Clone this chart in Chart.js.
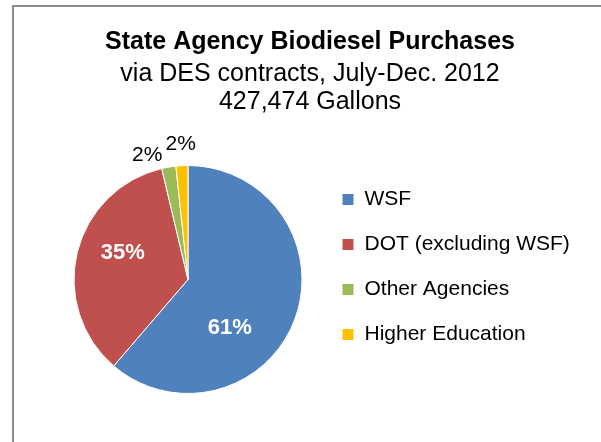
<!DOCTYPE html>
<html>
<head>
<meta charset="utf-8">
<title>State Agency Biodiesel Purchases</title>
<script src="https://cdn.jsdelivr.net/npm/chart.js@4"></script>
<style>
  html, body { margin: 0; padding: 0; background: #fff; }
  #wrap { position: relative; width: 601px; height: 442px; overflow: hidden; }
  #frame { position: absolute; left: 12px; top: 5px; width: 640px; height: 480px;
           border-left: 2px solid #8c8c8c; border-top: 2px solid #8c8c8c; }
  #chart { position: absolute; left: 0; top: 0; }
</style>
</head>
<body>
<div id="wrap">
  <div id="frame"></div>
  <canvas id="chart" width="601" height="442"></canvas>
</div>
<script>
// data (share of gallons, %)
const categories = ["WSF", "DOT (excluding WSF)", "Other Agencies", "Higher Education"];
const shares = [61.3, 35.0, 2.0, 1.7];
const sliceColors = ["#4F81BD", "#C0504D", "#9BBB59", "#FFC000"];
const titleText = "State Agency Biodiesel Purchases";
const subtitleLines = ["via DES contracts, July-Dec. 2012", "427,474 Gallons"];

const FONT = "'Liberation Sans', Arial, sans-serif";

// where each percent label sits: fraction along the slice, fraction of radius
const labelSpots = [
  { along: 0.63, r: 0.56, inside: true },
  { along: 0.57, r: 0.62, inside: true },
  { along: -0.68, r: 1.145, inside: false },
  { along: 0.5, r: 1.19, inside: false }
];

// percent labels on the pie
const pctLabels = {
  id: "pctLabels",
  afterDatasetsDraw(chart) {
    const ctx = chart.ctx;
    const meta = chart.getDatasetMeta(0);
    const vals = chart.data.datasets[0].data;
    const total = vals.reduce((a, b) => a + b, 0);
    ctx.save();
    ctx.textAlign = "center";
    ctx.textBaseline = "middle";
    meta.data.forEach((arc, i) => {
      const p = arc.getProps(["x", "y", "startAngle", "endAngle", "outerRadius"], true);
      const spot = labelSpots[i];
      const a = p.startAngle + spot.along * (p.endAngle - p.startAngle);
      const rr = p.outerRadius * spot.r;
      const x = p.x + Math.cos(a) * rr;
      const y = p.y + Math.sin(a) * rr;
      if (spot.inside) {
        ctx.font = "bold 22px " + FONT;
        ctx.fillStyle = "#fff";
      } else {
        ctx.font = "21px " + FONT;
        ctx.fillStyle = "#000";
      }
      ctx.fillText(Math.round(vals[i] / total * 100) + "%", x, y);
    });
    ctx.restore();
  }
};

// legend is squeezed by maxWidth for layout; let it draw to the canvas edge
const legendRoom = {
  id: "legendRoom",
  afterLayout(chart) {
    if (chart.legend) chart.legend.right = chart.width;
  }
};

const ctx = document.getElementById("chart").getContext("2d");
new Chart(ctx, {
  type: "pie",
  data: {
    labels: categories,
    datasets: [{
      data: shares,
      backgroundColor: sliceColors,
      borderColor: "#fff",
      borderWidth: 1
    }]
  },
  options: {
    responsive: false,
    animation: false,
    layout: { padding: { left: 58, right: 39, top: 0, bottom: 48 } },
    plugins: {
      title: {
        display: true,
        text: titleText,
        color: "#000",
        font: { family: FONT, size: 25, weight: "bold", lineHeight: 1.2 },
        padding: { top: 27, bottom: 3 }
      },
      subtitle: {
        display: true,
        text: subtitleLines,
        color: "#000",
        font: { family: FONT, size: 25, weight: "normal", lineHeight: 1.12 },
        padding: { top: 0, bottom: 49 }
      },
      legend: {
        position: "right",
        align: "start",
        fullSize: false,
        maxWidth: 244,
        labels: {
          boxWidth: 12,
          boxHeight: 12,
          padding: 24,
          color: "#000",
          font: { family: FONT, size: 21 }
        }
      },
      tooltip: { enabled: false }
    }
  },
  plugins: [pctLabels, legendRoom]
});
</script>
</body>
</html>
